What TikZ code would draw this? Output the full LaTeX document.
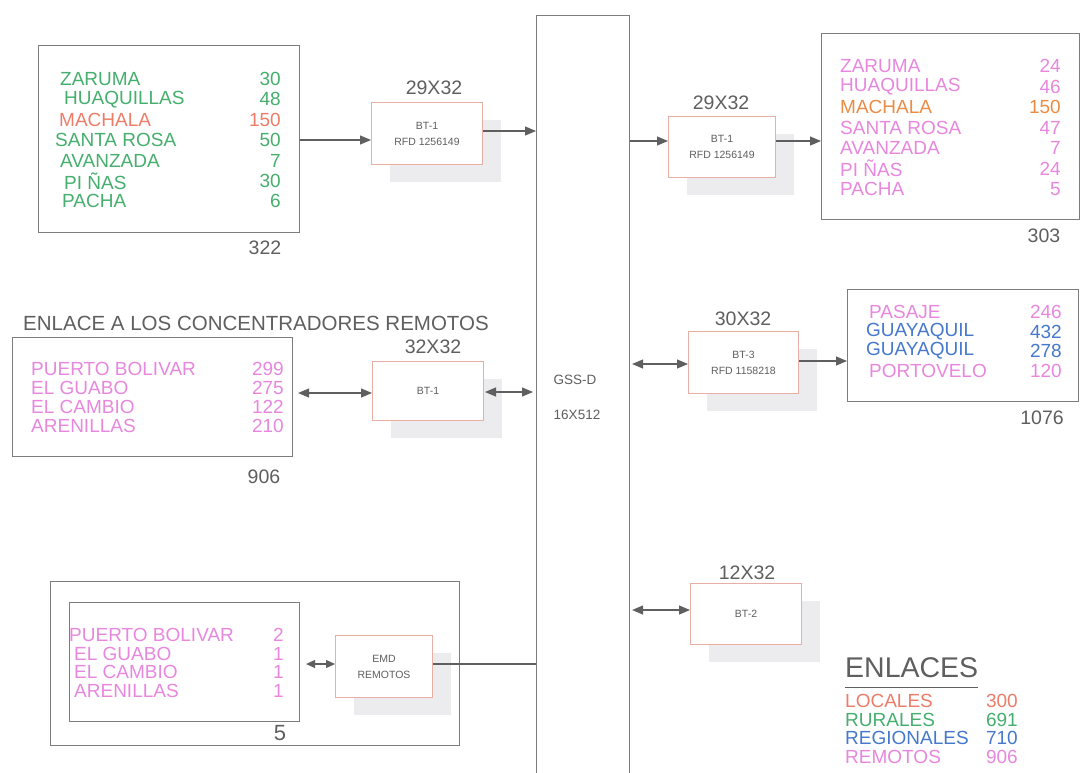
\documentclass[tikz,border=0pt]{standalone}
\usepackage{fontspec}
\setmainfont{Liberation Sans}
\usetikzlibrary{arrows.meta,shadows}

\definecolor{rgreen}{RGB}{70,175,110}
\definecolor{rsalmon}{RGB}{235,125,105}
\definecolor{rpink}{RGB}{232,135,222}
\definecolor{rblue}{RGB}{70,120,205}
\definecolor{rorange}{RGB}{235,140,70}
\definecolor{ink}{RGB}{95,95,95}
\definecolor{frame}{RGB}{125,125,125}
\definecolor{boxedge}{RGB}{232,175,165}
\definecolor{shade}{RGB}{236,236,238}

\begin{document}
\begin{tikzpicture}[x=1pt,y=-1pt,
  listbox/.style={draw=frame, line width=1.1pt, rectangle, inner sep=0pt, anchor=north west},
  unit/.style={draw=boxedge, line width=1pt, fill=white, rectangle, inner sep=0pt,
    anchor=north west, align=center, text=ink, font=\fontsize{10.5}{16}\selectfont,
    drop shadow={shadow xshift=18pt, shadow yshift=-17pt, fill=shade, opacity=1}},
  lbl/.style={font=\fontsize{19.5}{20}\selectfont, inner sep=0pt, text=ink},
  row/.style={font=\fontsize{19}{19}\selectfont, inner sep=0pt, anchor=west},
  num/.style={font=\fontsize{19}{19}\selectfont, inner sep=0pt, anchor=east},
  wire/.style={draw=ink, line width=1.1pt},
  arr/.style={wire, -{Triangle[length=11pt,width=9pt]}},
  dbl/.style={wire, {Triangle[length=11pt,width=9pt]}-{Triangle[length=11pt,width=9pt]}},
  sdbl/.style={wire, {Triangle[length=9pt,width=8pt]}-{Triangle[length=9pt,width=8pt]}}]

\useasboundingbox (0,0) rectangle (1081,772);
\fill[white] (0,0) rectangle (1081,772);
\clip (0,0) rectangle (1081,772);

% central switch GSS-D
\node[listbox, minimum width=93pt, minimum height=800pt] (gss) at (536,15) {};
\node[lbl, font=\fontsize{13.5}{14}\selectfont] (gssname) at (575,380) {GSS-D};
\node[lbl, font=\fontsize{13.5}{14}\selectfont] (gsssize) at (577,415) {16X512};

% local links, left
\node[listbox, minimum width=261pt, minimum height=187pt] (L1) at (38,45) {};
\foreach \x/\n/\v/\c [count=\i] in {60/ZARUMA/30/rgreen, 64/HUAQUILLAS/48/rgreen,
    59/MACHALA/150/rsalmon, 55/SANTA ROSA/50/rgreen, 60/AVANZADA/7/rgreen,
    64/PI ÑAS/30/rgreen, 62/PACHA/6/rgreen}{
  \node[row, text=\c] (L1n\i) at (\x,{79+20.4*(\i-1)}) {\n};
  \node[num, text=\c] (L1v\i) at (281,{79+20.4*(\i-1)}) {\v};
}
\node[lbl] (L1sum) at (265,248) {322};

\node[unit, minimum width=111pt, minimum height=62pt] (B1) at (371,102) {BT-1\\RFD 1256149};
\node[lbl] (B1cap) at (434,88) {29X32};

% local links, right
\node[listbox, minimum width=258pt, minimum height=186pt] (L2) at (821,33) {};
\foreach \n/\v/\c [count=\i] in {ZARUMA/24/rpink, HUAQUILLAS/46/rpink,
    MACHALA/150/rorange, SANTA ROSA/47/rpink, AVANZADA/7/rpink,
    PI ÑAS/24/rpink, PACHA/5/rpink}{
  \node[row, text=\c] (L2n\i) at (840,{66+20.5*(\i-1)}) {\n};
  \node[num, text=\c] (L2v\i) at (1061,{66+20.5*(\i-1)}) {\v};
}
\node[lbl] (L2sum) at (1044,236) {303};

\node[unit, minimum width=107pt, minimum height=61pt] (B2) at (668,116) {BT-1\\RFD 1256149};
\node[lbl] (B2cap) at (721,103) {29X32};

% remote concentrators
\node[lbl, font=\fontsize{20.5}{21}\selectfont] (rtitle) at (256,323) {ENLACE A LOS CONCENTRADORES REMOTOS};
\node[listbox, minimum width=280pt, minimum height=119pt] (L3) at (12,337) {};
\foreach \n/\v [count=\i] in {PUERTO BOLIVAR/299, EL GUABO/275, EL CAMBIO/122, ARENILLAS/210}{
  \node[row, text=rpink] (L3n\i) at (31,{369+19*(\i-1)}) {\n};
  \node[num, text=rpink] (L3v\i) at (284,{369+19*(\i-1)}) {\v};
}
\node[lbl] (L3sum) at (264,477) {906};

\node[unit, minimum width=111pt, minimum height=59pt] (B3) at (372,361) {BT-1};
\node[lbl] (B3cap) at (433,347) {32X32};

% regional links
\node[unit, minimum width=110pt, minimum height=62pt] (B4) at (688,331) {BT-3\\RFD 1158218};
\node[lbl] (B4cap) at (743,319) {30X32};

\node[listbox, minimum width=231pt, minimum height=112pt] (L4) at (847,289) {};
\foreach \x/\n/\v/\c [count=\i] in {869/PASAJE/246/rpink, 866/GUAYAQUIL/432/rblue,
    866/GUAYAQUIL/278/rblue, 869/PORTOVELO/120/rpink}{
  \node[row, text=\c] (L4n\i) at (\x,{312+19.5*(\i-1)}) {\n};
  \node[num, text=\c] (L4v\i) at (1062,{312+19.5*(\i-1)}) {\v};
}
\node[lbl] (L4sum) at (1042,418) {1076};

% spare unit
\node[unit, minimum width=111pt, minimum height=61pt] (B5) at (690,583) {BT-2};
\node[lbl] (B5cap) at (747,573) {12X32};

% remote terminals
\node[listbox, minimum width=409pt, minimum height=164pt] (L5out) at (50,581) {};
\node[listbox, minimum width=230pt, minimum height=119pt] (L5in) at (69,602) {};
\foreach \x/\n/\v [count=\i] in {69/PUERTO BOLIVAR/2, 74/EL GUABO/1, 74/EL CAMBIO/1, 74/ARENILLAS/1}{
  \node[row, text=rpink] (L5n\i) at (\x,{635+18.5*(\i-1)}) {\n};
  \node[num, text=rpink] (L5v\i) at (284,{635+18.5*(\i-1)}) {\v};
}
\node[lbl, font=\fontsize{22}{22}\selectfont] (L5sum) at (280,733) {5};

\node[unit, minimum width=97pt, minimum height=62pt] (emd) at (335,635) {EMD\\REMOTOS};

% legend
\node[lbl, font=\fontsize{28.5}{29}\selectfont, anchor=west] (ttl) at (845,668) {ENLACES};
\draw[ink, line width=1.3pt] ([yshift=-9pt]ttl.south west) -- ([yshift=-9pt]ttl.south east);
\foreach \n/\v/\c [count=\i] in {LOCALES/300/rsalmon, RURALES/691/rgreen,
    REGIONALES/710/rblue, REMOTOS/906/rpink}{
  \node[row, text=\c] (Gn\i) at (845,{701+18.5*(\i-1)}) {\n};
  \node[num, text=\c] (Gv\i) at (1018,{701+18.5*(\i-1)}) {\v};
}

% connectors
\draw[arr] (L1.east |- 0,140) -- (B1.west |- 0,140);
\draw[arr] (B1.east |- 0,131) -- (gss.west |- 0,131);
\draw[arr] (gss.east |- 0,141) -- (B2.west |- 0,141);
\draw[arr] (B2.east |- 0,141) -- (L2.west |- 0,141);
\draw[dbl] ([xshift=5pt]L3.east |- 0,393) -- (B3.west |- 0,393);
\draw[dbl] ([xshift=1pt]B3.east |- 0,392) -- ([xshift=-3pt]gss.west |- 0,392);
\draw[dbl] ([xshift=2pt]gss.east |- 0,364) -- (B4.west |- 0,364);
\draw[arr] (B4.east |- 0,361) -- (L4.west |- 0,361);
\draw[dbl] ([xshift=2pt]gss.east |- 0,610) -- (B5.west |- 0,610);
\draw[sdbl] ([xshift=6pt]L5in.east |- 0,664) -- (emd.west |- 0,664);
\draw[wire] (emd.east |- 0,664) -- (gss.west |- 0,664);

\end{tikzpicture}
\end{document}
